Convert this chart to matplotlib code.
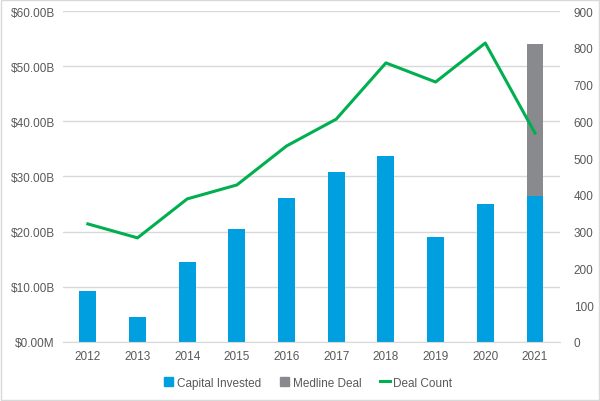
import matplotlib
matplotlib.use("Agg")
import matplotlib.pyplot as plt
from matplotlib.patches import Rectangle
from matplotlib.lines import Line2D
import numpy as np

years = ["2012", "2013", "2014", "2015", "2016", "2017", "2018", "2019", "2020", "2021"]
capital_invested = [9.3, 4.5, 14.5, 20.5, 26.1, 30.8, 33.7, 19.0, 25.0, 26.5]
medline_deal = [0, 0, 0, 0, 0, 0, 0, 0, 0, 27.5]
deal_count = [321, 283, 389, 427, 533, 606, 759, 707, 813, 568]

left_ticks = [0, 10, 20, 30, 40, 50, 60]
left_labels = ["$0.00M", "$10.00B", "$20.00B", "$30.00B", "$40.00B", "$50.00B", "$60.00B"]
right_ticks = [0, 100, 200, 300, 400, 500, 600, 700, 800, 900]

plt.rcParams['font.family'] = ['Liberation Sans', 'DejaVu Sans']
blue = "#009FDF"
gray = "#898A8D"
green = "#00B050"
tcol = "#595959"

fig = plt.figure(figsize=(6, 4.02), dpi=100)
ax = fig.add_axes([0.105, 0.147, 0.828, 0.823])
x = np.arange(len(years))
w = 0.34
ax.bar(x, capital_invested, width=w, color=blue, zorder=2)
ax.bar(x, medline_deal, width=w, bottom=capital_invested, color=gray, zorder=2)
ax.set_xlim(-0.5, len(years) - 0.5)
ax.set_ylim(0, 60)
ax.set_yticks(left_ticks)
ax.set_yticklabels(left_labels)
ax.set_xticks(x)
ax.set_xticklabels(years)
ax.grid(axis='y', color="#D9D9D9", linewidth=1, zorder=0)
ax.set_axisbelow(True)
for s in ax.spines.values():
    s.set_visible(False)
ax.spines['bottom'].set_visible(True)
ax.spines['bottom'].set_color("#D9D9D9")
ax.tick_params(length=0, labelsize=8.5, colors=tcol, pad=6)

ax2 = ax.twinx()
ax2.plot(x, deal_count, color=green, linewidth=2.2, zorder=3)
ax2.set_ylim(0, 900)
ax2.set_yticks(right_ticks)
for s in ax2.spines.values():
    s.set_visible(False)
ax2.tick_params(length=0, labelsize=8.5, colors=tcol, pad=10)

handles = [Rectangle((0, 0), 1, 1, color=blue), Rectangle((0, 0), 1, 1, color=gray),
           Line2D([0], [0], color=green, linewidth=2.2)]
fig.legend(handles, ["Capital Invested", "Medline Deal", "Deal Count"], loc='center',
           bbox_to_anchor=(0.513, 0.046), ncol=3, frameon=False, fontsize=8.5,
           labelcolor=tcol, handlelength=0.8, handleheight=0.8, handletextpad=0.3,
           columnspacing=1.6)

fig.patches.append(Rectangle((0.0015, 0.0015), 0.997, 0.997, transform=fig.transFigure,
                             fill=False, edgecolor="#D9D9D9", linewidth=1))
fig.savefig("out.png", dpi=100, facecolor="white")
